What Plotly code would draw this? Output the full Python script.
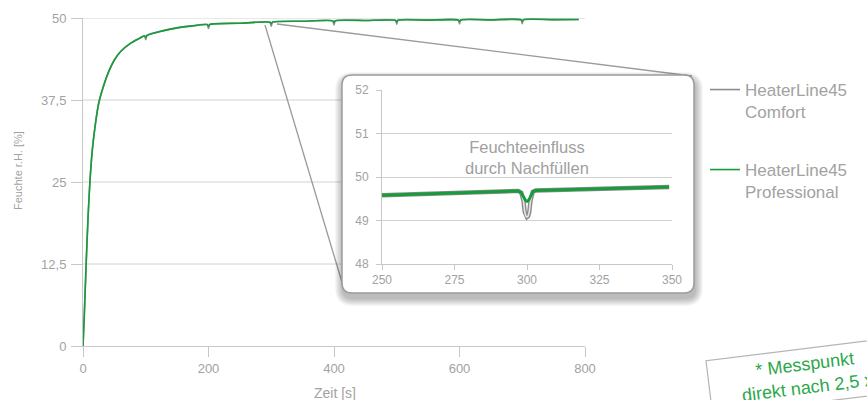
import plotly.graph_objects as go

# ---------------- data ----------------
time_main = [0, 2, 5, 8, 11, 15, 20, 25, 30, 40, 50, 60, 75, 90,
             98, 100, 102, 125, 150, 175,
             198, 200, 202, 250,
             298, 300, 302, 350,
             398, 400, 402, 450,
             498, 500, 502, 550,
             598, 600, 602, 650,
             698, 700, 702, 750, 790]

professional_main = [0, 4.5, 12.5, 19.5, 25, 30, 34, 37, 38.8, 41.6, 43.6, 44.9, 46.1, 46.9,
                     47.3, 47.05, 47.35, 48.0, 48.5, 48.8,
                     49.0, 48.75, 49.02, 49.2,
                     49.35, 49.1, 49.37, 49.5,
                     49.56, 49.32, 49.57, 49.62,
                     49.65, 49.42, 49.66, 49.68,
                     49.7, 49.47, 49.7, 49.72,
                     49.74, 49.5, 49.74, 49.75, 49.76]

comfort_main = [0, 4.5, 12.5, 19.5, 25, 30, 34, 37, 38.8, 41.6, 43.6, 44.9, 46.1, 46.9,
                47.3, 46.7, 47.35, 48.0, 48.5, 48.8,
                49.0, 48.4, 49.02, 49.2,
                49.35, 48.75, 49.37, 49.5,
                49.56, 48.95, 49.57, 49.62,
                49.65, 49.05, 49.66, 49.68,
                49.7, 49.1, 49.7, 49.72,
                49.74, 49.15, 49.74, 49.75, 49.76]

zoom_time_comfort = [250, 297, 298, 298.8, 299.2, 299.6, 300, 300.4, 300.8, 301.2, 302, 303, 349]
zoom_comfort = [49.58, 49.68, 49.64, 49.45, 49.2, 49.1, 49.08, 49.1, 49.2, 49.45, 49.66, 49.69, 49.77]

zoom_time_professional = [250, 297, 298, 299, 299.5, 300, 300.5, 301, 302, 303, 349]
zoom_professional = [49.58, 49.68, 49.64, 49.52, 49.46, 49.44, 49.46, 49.52, 49.66, 49.69, 49.77]

series_names = ["HeaterLine45<br>Comfort", "HeaterLine45<br>Professional"]
x_ticks = [0, 200, 400, 600, 800]
y_ticks = [0, 12.5, 25, 37.5, 50]
y_tick_labels = ["0", "12,5", "25", "37,5", "50"]
zoom_x_ticks = [250, 275, 300, 325, 350]
zoom_y_ticks = [48, 49, 50, 51, 52]

x_title = "Zeit [s]"
y_title = "Feuchte r.H. [%]"
zoom_note = "Feuchteeinfluss<br>durch Nachfüllen"
footnote = "* Messpunkt<br>direkt nach 2,5 x"

# ---------------- styles ----------------
W, H = 867, 400
ML, MR, MT, MB = 83, 10, 18, 54
PW, PH = W - ML - MR, H - MT - MB
GREEN = "#179c3c"
GRAY = "#8c8c8c"
TXT = "#a2a2a2"
GRID = "#d2d2d2"
FONT = "Liberation Sans, Arial, sans-serif"


def pxx(x):
    return (x - ML) / PW


def pxy(y):
    return (MT + PH - y) / PH


def rrect(x0, y0, x1, y1, r):
    pts = [("M", [(x0 + r, y0)]), ("L", [(x1 - r, y0)]), ("Q", [(x1, y0), (x1, y0 + r)]),
           ("L", [(x1, y1 - r)]), ("Q", [(x1, y1), (x1 - r, y1)]), ("L", [(x0 + r, y1)]),
           ("Q", [(x0, y1), (x0, y1 - r)]), ("L", [(x0, y0 + r)]), ("Q", [(x0, y0), (x0 + r, y0)])]
    s = ""
    for cmd, ps in pts:
        s += cmd + " " + " ".join(f"{pxx(a):.5f},{pxy(b):.5f}" for a, b in ps) + " "
    return s + "Z"


main_dom = [0, (585 - ML) / PW]
inset_xdom = [pxx(382), pxx(672)]
inset_ydom = [pxy(264), pxy(90)]

fig = go.Figure()

fig.add_trace(go.Scatter(x=time_main, y=comfort_main, mode="lines", name=series_names[0],
                         line=dict(color=GRAY, width=1.6, shape="spline", smoothing=0.6), legend="legend",
                         xaxis="x", yaxis="y", hoverinfo="skip"))
fig.add_trace(go.Scatter(x=time_main, y=professional_main, mode="lines", name=series_names[1],
                         line=dict(color=GREEN, width=1.6, shape="spline", smoothing=0.6), legend="legend2",
                         xaxis="x", yaxis="y", hoverinfo="skip"))

fig.add_trace(go.Scatter(x=zoom_time_comfort, y=zoom_comfort, mode="lines", showlegend=False,
                         line=dict(color=GRAY, width=4.4), xaxis="x2", yaxis="y2", hoverinfo="skip"))
fig.add_trace(go.Scatter(x=zoom_time_comfort, y=zoom_comfort, mode="lines", showlegend=False,
                         line=dict(color="#e4e4e4", width=1.6), xaxis="x2", yaxis="y2", hoverinfo="skip"))
fig.add_trace(go.Scatter(x=zoom_time_professional, y=zoom_professional, mode="lines", showlegend=False,
                         line=dict(color=GREEN, width=3), xaxis="x2", yaxis="y2", hoverinfo="skip"))

shapes = []
# main horizontal gridlines (paper layer so the inset box can cover them)
for v in y_ticks[1:]:
    shapes.append(dict(type="line", xref="paper", yref="y", x0=main_dom[0], x1=main_dom[1],
                       y0=v, y1=v, line=dict(color=GRID, width=1), layer="below"))
# connector lines
shapes.append(dict(type="line", xref="paper", yref="paper", x0=pxx(265), y0=pxy(25),
                   x1=pxx(344), y1=pxy(289), line=dict(color="#9a9a9a", width=1.3), layer="below"))
shapes.append(dict(type="line", xref="paper", yref="paper", x0=pxx(277), y0=pxy(24),
                   x1=pxx(692), y1=pxy(76), line=dict(color="#9a9a9a", width=1.3), layer="below"))
# inset shadow
for e in range(8, 0, -1):
    shapes.append(dict(type="path", xref="paper", yref="paper",
                       path=rrect(342 - e + 1, 75 - e + 5, 694 + e + 1, 293 + e + 5, 10 + e),
                       fillcolor="rgba(0,0,0,0.035)", line=dict(width=0), layer="below"))
# inset box
shapes.append(dict(type="path", xref="paper", yref="paper", path=rrect(342, 75, 694, 293, 10),
                   fillcolor="white", line=dict(color="#9c9c9c", width=1.5), layer="below"))

annotations = [
    dict(text=y_title, xref="paper", yref="paper", x=pxx(18), y=pxy(171), textangle=-90,
         showarrow=False, font=dict(size=11, color=TXT, family=FONT), xanchor="center", yanchor="middle"),
    dict(text=x_title, xref="paper", yref="paper", x=pxx(335), y=pxy(393),
         showarrow=False, font=dict(size=14, color=TXT, family=FONT), xanchor="center", yanchor="middle"),
    dict(text=zoom_note, xref="x2", yref="y2", x=300, y=50.45, showarrow=False,
         font=dict(size=16.5, color="#a0a0a0", family=FONT), xanchor="center", yanchor="middle"),
    dict(text=footnote, xref="paper", yref="paper", x=pxx(806), y=pxy(376), textangle=-7,
         showarrow=False, font=dict(size=18, color="#2aa84a", family=FONT), width=184, align="center",
         bgcolor="white", bordercolor="#b5b5b5", borderwidth=1.2, borderpad=5,
         xanchor="center", yanchor="middle"),
]

axis_common = dict(showgrid=False, zeroline=False, showline=True, linecolor="#c8c8c8", linewidth=1,
                   ticks="outside", tickcolor="#c8c8c8", tickfont=dict(size=13, color=TXT, family=FONT))

fig.update_layout(
    width=W, height=H, margin=dict(l=ML, r=MR, t=MT, b=MB, autoexpand=False),
    paper_bgcolor="white", plot_bgcolor="rgba(0,0,0,0)",
    font=dict(family=FONT, color=TXT),
    xaxis=dict(domain=main_dom, range=[0, 800], tickvals=x_ticks, ticklen=10, anchor="y",
               automargin=False, **axis_common),
    yaxis=dict(domain=[0, 1], range=[0, 50], tickvals=y_ticks, ticktext=y_tick_labels, ticklen=11,
               anchor="x", automargin=False, ticklabelstandoff=2, **axis_common),
    xaxis2=dict(domain=inset_xdom, range=[250, 350], tickvals=zoom_x_ticks, ticklen=5, anchor="y2",
                showgrid=False, zeroline=False, showline=True, linecolor="#c8c8c8", ticks="outside",
                tickcolor="#c8c8c8", tickfont=dict(size=12, color=TXT, family=FONT), automargin=False),
    yaxis2=dict(domain=inset_ydom, range=[48, 52], tickvals=zoom_y_ticks, ticklen=5, anchor="x2",
                showgrid=True, gridcolor=GRID, zeroline=False, showline=True, linecolor="#c8c8c8",
                ticks="outside", tickcolor="#c8c8c8", tickfont=dict(size=12, color=TXT, family=FONT),
                automargin=False, ticklabelstandoff=5),
    shapes=shapes,
    annotations=annotations,
    legend=dict(x=pxx(705), y=pxy(72), xanchor="left", yanchor="top", xref="paper", yref="paper",
                bgcolor="rgba(0,0,0,0)", font=dict(size=17, color=TXT, family=FONT), valign="top",
                itemwidth=30, itemclick=False, itemdoubleclick=False),
    legend2=dict(x=pxx(705), y=pxy(152), xanchor="left", yanchor="top", xref="paper", yref="paper",
                 bgcolor="rgba(0,0,0,0)", font=dict(size=17, color=TXT, family=FONT), valign="top",
                 itemwidth=30, itemclick=False, itemdoubleclick=False),
    showlegend=True,
)

fig.write_html("out.html", config={"displayModeBar": False},
               post_script="document.body.style.margin='0';document.body.style.overflow='hidden';")
